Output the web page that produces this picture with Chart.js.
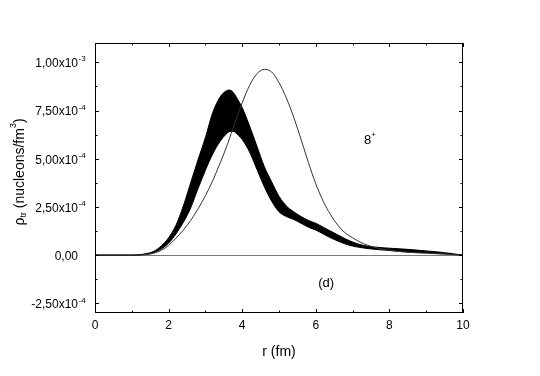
<!DOCTYPE html>
<html>
<head>
<meta charset="utf-8">
<script src="https://cdn.jsdelivr.net/npm/chart.js@4/dist/chart.umd.min.js"></script>
<style>
  html, body { margin: 0; padding: 0; background: #fff; }
  #wrap { width: 540px; height: 376px; }
</style>
</head>
<body>
<div id="wrap"><canvas id="chart" width="540" height="376"></canvas></div>
<script>
// values in units of 1e-3 nucleons/fm^3
const UNIT = 1e-3;

const bandR     = [0, 1.0, 1.2, 1.4, 1.6, 1.8, 2.0, 2.2, 2.4, 2.6, 2.8, 3.0, 3.2, 3.4, 3.55, 3.65, 3.75, 3.9, 4.0, 4.2, 4.4, 4.6, 4.8, 5.0, 5.2, 5.4, 5.6, 5.8, 6.0, 6.2, 6.4, 6.6, 6.8, 7.0, 7.3, 7.6, 8.0, 8.5, 9.0, 9.5, 10];
const bandUpper = [0, 0, 0.002, 0.008, 0.02, 0.048, 0.09, 0.155, 0.255, 0.375, 0.495, 0.61, 0.74, 0.82, 0.85, 0.856, 0.845, 0.8, 0.765, 0.67, 0.565, 0.46, 0.38, 0.305, 0.255, 0.225, 0.2, 0.18, 0.165, 0.145, 0.125, 0.105, 0.085, 0.068, 0.05, 0.042, 0.036, 0.03, 0.022, 0.013, 0];
const bandLower = [0, 0, 0.001, 0.005, 0.014, 0.032, 0.062, 0.11, 0.17, 0.245, 0.345, 0.44, 0.525, 0.59, 0.625, 0.64, 0.642, 0.62, 0.6, 0.535, 0.445, 0.355, 0.28, 0.225, 0.2, 0.185, 0.165, 0.145, 0.13, 0.11, 0.09, 0.073, 0.058, 0.047, 0.037, 0.03, 0.024, 0.016, 0.012, 0.007, 0];

const thinR   = [0, 1.0, 1.4, 1.6, 1.8, 2.0, 2.2, 2.4, 2.6, 2.8, 3.0, 3.2, 3.4, 3.6, 3.8, 4.0, 4.2, 4.4, 4.6, 4.8, 5.0, 5.2, 5.4, 5.6, 5.8, 6.0, 6.2, 6.4, 6.6, 6.8, 7.0, 7.2, 7.4, 7.6, 8.0, 8.5, 9.0, 9.5, 10];
const thinRho = [0, 0, 0.003, 0.01, 0.025, 0.05, 0.088, 0.13, 0.18, 0.24, 0.308, 0.387, 0.477, 0.575, 0.685, 0.79, 0.88, 0.94, 0.963, 0.95, 0.895, 0.815, 0.715, 0.6, 0.48, 0.37, 0.28, 0.21, 0.155, 0.115, 0.09, 0.068, 0.052, 0.04, 0.025, 0.015, 0.01, 0.005, 0];

const xTicks      = [0, 2, 4, 6, 8, 10];
const yTickValues = [-2.5e-4, 0, 2.5e-4, 5e-4, 7.5e-4, 1e-3];
const yTickBase   = ['-2,50x10', '0,00', '2,50x10', '5,00x10', '7,50x10', '1,00x10'];
const yTickExp    = ['-4', '', '-4', '-4', '-4', '-3'];

const FONT = "'Liberation Sans', Arial, sans-serif";

const pts = (rs, vs) => rs.map((r, i) => ({ x: r, y: vs[i] * UNIT }));

// draws a run of text pieces with sub/superscripts, centred on cx
function drawRich(ctx, parts, cx, cy) {
  let total = 0;
  parts.forEach(p => { ctx.font = p.size + 'px ' + FONT; p.w = ctx.measureText(p.t).width; total += p.w; });
  let xx = cx - total / 2;
  ctx.textAlign = 'left';
  ctx.textBaseline = 'middle';
  parts.forEach(p => {
    ctx.font = p.size + 'px ' + FONT;
    ctx.fillText(p.t, xx, cy + p.dy);
    xx += p.w;
  });
}

const framePlugin = {
  id: 'frame',
  afterDraw(chart) {
    const { ctx, chartArea: a, scales: { x, y } } = chart;
    ctx.save();
    ctx.strokeStyle = '#000';
    ctx.lineWidth = 1;
    ctx.strokeRect(Math.round(a.left) + 0.5, Math.round(a.top) + 0.5,
                   Math.round(a.right - a.left) - 1, Math.round(a.bottom - a.top) - 1);

    // inward ticks on all four sides
    ctx.beginPath();
    for (let v = 0; v <= 10; v++) {
      const px = Math.round(x.getPixelForValue(v)) + 0.5;
      const len = v % 2 === 0 ? 4 : 2.5;
      ctx.moveTo(px, a.bottom); ctx.lineTo(px, a.bottom - len);
      ctx.moveTo(px, a.top); ctx.lineTo(px, a.top + len);
    }
    for (let i = -2; i <= 8; i++) {
      const py = Math.round(y.getPixelForValue(i * 1.25e-4)) + 0.5;
      const len = i % 2 === 0 ? 4 : 2.5;
      ctx.moveTo(a.left, py); ctx.lineTo(a.left + len, py);
      ctx.moveTo(a.right, py); ctx.lineTo(a.right - len, py);
    }
    ctx.stroke();

    // y tick labels with exponents
    ctx.fillStyle = '#000';
    ctx.textBaseline = 'middle';
    yTickValues.forEach((v, i) => {
      const py = y.getPixelForValue(v) + 1.5;
      ctx.font = '12px ' + FONT;
      ctx.textAlign = 'right';
      ctx.fillText(yTickBase[i], 78, py);
      if (yTickExp[i]) {
        ctx.font = '8px ' + FONT;
        ctx.textAlign = 'left';
        ctx.fillText(yTickExp[i], 78.5, py - 4.5);
      }
    });

    // x title
    ctx.font = '14px ' + FONT;
    ctx.textAlign = 'center';
    ctx.fillText('r (fm)', (a.left + a.right) / 2, 352);

    // annotations
    drawRich(ctx, [{ t: '8', size: 13, dy: 0 }, { t: '+', size: 8, dy: -6 }],
             x.getPixelForValue(7.47), y.getPixelForValue(0.594e-3));
    drawRich(ctx, [{ t: '(d)', size: 13, dy: 0 }],
             x.getPixelForValue(6.28), y.getPixelForValue(-0.146e-3));

    // y title, rotated
    ctx.translate(20, 172);
    ctx.rotate(-Math.PI / 2);
    drawRich(ctx, [
      { t: 'ρ', size: 14, dy: 0 },
      { t: 'tr', size: 9, dy: 4 },
      { t: ' (nucleons/fm', size: 14, dy: 0 },
      { t: '3', size: 9, dy: -6 },
      { t: ')', size: 14, dy: 0 }
    ], 0, 0);
    ctx.restore();
  }
};

new Chart(document.getElementById('chart'), {
  type: 'line',
  data: {
    datasets: [
      {
        label: 'thin',
        data: pts(thinR, thinRho),
        borderColor: '#333',
        borderWidth: 1,
        pointRadius: 0,
        fill: false,
        cubicInterpolationMode: 'monotone'
      },
      {
        label: 'lower',
        data: pts(bandR, bandLower),
        borderColor: '#000',
        borderWidth: 1,
        pointRadius: 0,
        fill: false,
        cubicInterpolationMode: 'monotone'
      },
      {
        label: 'upper',
        data: pts(bandR, bandUpper),
        borderColor: '#000',
        backgroundColor: '#000',
        borderWidth: 1,
        pointRadius: 0,
        fill: '-1',
        cubicInterpolationMode: 'monotone'
      }
    ]
  },
  options: {
    responsive: false,
    animation: false,
    devicePixelRatio: 1,
    layout: { padding: { top: 43, right: 77, left: 0, bottom: 0 } },
    plugins: { legend: { display: false }, tooltip: { enabled: false } },
    scales: {
      x: {
        type: 'linear', min: 0, max: 10,
        afterBuildTicks: s => { s.ticks = xTicks.map(v => ({ value: v })); },
        afterFit: s => { s.height = 63; },
        ticks: { color: '#000', font: { family: FONT, size: 12 }, padding: 5, maxRotation: 0 },
        grid: { display: false, drawTicks: false },
        border: { display: false }
      },
      y: {
        type: 'linear', min: -3e-4, max: 1.1e-3,
        afterBuildTicks: s => { s.ticks = yTickValues.map(v => ({ value: v })); },
        afterFit: s => { s.width = 95; },
        ticks: { display: false },
        grid: {
          drawTicks: false,
          color: c => (c.tick && c.tick.value === 0 ? '#7a7a7a' : 'rgba(0,0,0,0)'),
          lineWidth: 1
        },
        border: { display: false }
      }
    }
  },
  plugins: [framePlugin]
});
</script>
</body>
</html>
